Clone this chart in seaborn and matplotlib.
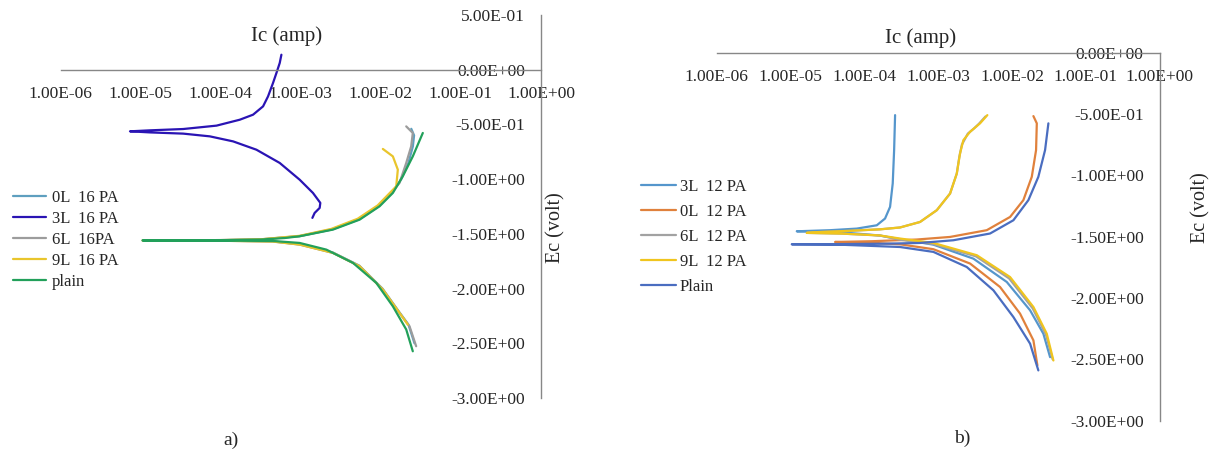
import numpy as np
import pandas as pd
import matplotlib
matplotlib.use("Agg")
import matplotlib.pyplot as plt
from matplotlib.ticker import FuncFormatter, NullLocator
import seaborn as sns

# current values as log10(Ic / amp), potentials in volt
# ---- panel a (16 PA) ----
a_0L_logI = [-1.58, -1.655, -1.775, -1.98, -2.27, -2.60, -3.014, -3.35, -4.0, -4.975,
             -4.0, -3.5, -3.014, -2.605, -2.272, -2.022, -1.86, -1.745, -1.655, -1.60, -1.585, -1.62]
a_0L_E = [-2.50, -2.33, -2.21, -2.0, -1.79, -1.67, -1.595, -1.568, -1.562, -1.560,
          -1.557, -1.551, -1.521, -1.459, -1.368, -1.246, -1.125, -1.0, -0.85, -0.70, -0.60, -0.54]

a_3L_logI = [-2.855, -2.827, -2.764, -2.756, -2.848, -3.014, -3.263, -3.554, -3.845, -4.136,
             -4.469, -4.884, -5.133, -4.884, -4.469, -4.052, -3.762, -3.596, -3.471, -3.409,
             -3.347, -3.304, -3.263, -3.242]
a_3L_E = [-1.354, -1.309, -1.263, -1.217, -1.126, -1.005, -0.852, -0.731, -0.655, -0.609,
          -0.584, -0.573, -0.563, -0.554, -0.542, -0.511, -0.457, -0.411, -0.335, -0.244,
          -0.122, -0.030, 0.061, 0.137]

a_6L_logI = [-1.559, -1.642, -1.767, -1.975, -2.265, -2.598, -3.014, -3.35, -4.0, -4.975,
             -4.0, -3.5, -3.014, -2.61, -2.28, -2.03, -1.87, -1.767, -1.683, -1.621, -1.601, -1.683]
a_6L_E = [-2.527, -2.344, -2.222, -2.009, -1.796, -1.674, -1.598, -1.570, -1.563, -1.560,
          -1.557, -1.550, -1.520, -1.458, -1.366, -1.244, -1.124, -1.035, -0.852, -0.700, -0.578, -0.518]

a_9L_logI = [-1.663, -1.767, -1.975, -2.265, -2.598, -3.014, -3.35, -4.0, -4.975,
             -4.0, -3.5, -3.014, -2.62, -2.29, -2.04, -1.88, -1.808, -1.788, -1.850, -1.975]
a_9L_E = [-2.329, -2.222, -2.009, -1.796, -1.674, -1.598, -1.570, -1.563, -1.560,
          -1.557, -1.550, -1.518, -1.455, -1.362, -1.240, -1.120, -1.066, -0.913, -0.792, -0.724]

a_plain_logI = [-1.601, -1.683, -1.850, -2.057, -2.349, -2.681, -3.014, -3.35, -4.0, -4.975,
                -4.0, -3.5, -3.2, -3.014, -2.598, -2.265, -2.016, -1.850, -1.726, -1.601, -1.476]
a_plain_E = [-2.573, -2.374, -2.162, -1.948, -1.765, -1.644, -1.583, -1.565, -1.562, -1.560,
             -1.558, -1.552, -1.538, -1.522, -1.461, -1.370, -1.248, -1.126, -0.974, -0.792, -0.578]

# ---- panel b (12 PA) ----
b_3L_logI = [-1.485, -1.576, -1.756, -2.072, -2.524, -3.066, -3.518, -3.8, -4.3, -4.917,
             -4.466, -4.104, -3.833, -3.721, -3.653, -3.617, -3.598, -3.585]
b_3L_E = [-2.482, -2.291, -2.100, -1.869, -1.679, -1.565, -1.52, -1.49, -1.465, -1.456,
          -1.447, -1.434, -1.407, -1.352, -1.257, -1.066, -0.794, -0.509]

b_0L_logI = [-1.657, -1.711, -1.892, -2.163, -2.569, -3.066, -3.518, -3.9, -4.398,
             -3.9, -3.291, -2.840, -2.343, -2.027, -1.847, -1.733, -1.675, -1.665, -1.711]
b_0L_E = [-2.549, -2.345, -2.127, -1.910, -1.719, -1.602, -1.562, -1.550, -1.543,
          -1.537, -1.523, -1.502, -1.447, -1.339, -1.202, -1.012, -0.794, -0.576, -0.517]

b_6L_logI = [-1.45, -1.54, -1.72, -2.04, -2.49, -3.066, -3.518, -3.79, -4.3, -4.78,
             -4.69, -4.24, -3.79, -3.52, -3.247, -3.020, -2.840, -2.749, -2.715, -2.68,
             -2.60, -2.52, -2.45, -2.36]
b_6L_E = [-2.50, -2.30, -2.085, -1.84, -1.66, -1.56, -1.525, -1.49, -1.475, -1.469,
          -1.464, -1.453, -1.440, -1.425, -1.380, -1.284, -1.148, -0.985, -0.85, -0.75,
          -0.66, -0.62, -0.58, -0.52]

b_9L_logI = [-1.440, -1.530, -1.711, -2.027, -2.478, -3.066, -3.518, -3.79, -4.3, -4.782,
             -4.692, -4.240, -3.789, -3.518, -3.247, -3.020, -2.840, -2.749, -2.705, -2.660,
             -2.569, -2.434, -2.335]
b_9L_E = [-2.509, -2.291, -2.073, -1.829, -1.651, -1.551, -1.515, -1.49, -1.475, -1.469,
          -1.464, -1.453, -1.440, -1.425, -1.380, -1.284, -1.148, -0.985, -0.821, -0.713,
          -0.645, -0.576, -0.509]

b_plain_logI = [-1.644, -1.756, -1.982, -2.253, -2.614, -3.066, -3.518, -4.3, -4.985,
                -4.3, -3.7, -3.247, -2.795, -2.298, -1.982, -1.779, -1.644, -1.553, -1.508]
b_plain_E = [-2.590, -2.372, -2.155, -1.937, -1.747, -1.624, -1.584, -1.566, -1.562,
             -1.560, -1.557, -1.551, -1.529, -1.474, -1.366, -1.202, -1.012, -0.794, -0.576]

x_ticks = [1e-6, 1e-5, 1e-4, 1e-3, 1e-2, 1e-1, 1e0]

series_a = [("0L  16 PA", a_0L_logI, a_0L_E, "#5E9FBF"),
            ("3L  16 PA", a_3L_logI, a_3L_E, "#2A14B4"),
            ("6L  16PA", a_6L_logI, a_6L_E, "#9C9C9C"),
            ("9L  16 PA", a_9L_logI, a_9L_E, "#E9C52C"),
            ("plain", a_plain_logI, a_plain_E, "#22A05A")]
series_b = [("3L  12 PA", b_3L_logI, b_3L_E, "#5596CC"),
            ("0L  12 PA", b_0L_logI, b_0L_E, "#E0813C"),
            ("6L  12 PA", b_6L_logI, b_6L_E, "#A2A2A2"),
            ("9L  12 PA", b_9L_logI, b_9L_E, "#F0C51E"),
            ("Plain", b_plain_logI, b_plain_E, "#4A6DC0")]


def draw_series(ax, series):
    # one tafel curve per coating, drawn in reading order
    for name, logi, e, col in series:
        df = pd.DataFrame({"I": np.power(10.0, logi), "E": e})
        sns.lineplot(data=df, x="I", y="E", ax=ax, sort=False, estimator=None,
                     color=col, linewidth=1.6, label=name)


def style_axes(ax, ymax):
    ax.set_xscale("log")
    ax.set_xlim(1e-6, 1)
    ax.set_ylim(-3.0, ymax)
    ax.spines["top"].set_visible(False)
    ax.spines["right"].set_visible(False)
    # excel style crossing axes: y axis at 1 amp, x axis at 0 volt
    ax.spines["left"].set_position(("axes", 1.0))
    ax.spines["bottom"].set_position(("data", 0))
    for s in ["left", "bottom"]:
        ax.spines[s].set_color("#878787")
        ax.spines[s].set_linewidth(1.0)
    ax.set_xticks(x_ticks)
    ax.xaxis.set_minor_locator(NullLocator())
    ax.set_yticks(np.arange(-3.0, ymax + 0.01, 0.5))
    fmt = FuncFormatter(lambda v, p: f"{v:.2E}")
    ax.xaxis.set_major_formatter(fmt)
    ax.yaxis.set_major_formatter(fmt)
    ax.tick_params(axis="both", direction="out", length=4, width=1.0,
                   color="#878787", labelsize=12.5)
    ax.tick_params(axis="x", pad=7.5)
    ax.tick_params(axis="y", pad=7.5)
    ax.set_xlabel("")
    ax.set_ylabel("")


sns.set_style("white")
plt.rcParams["font.family"] = ["Liberation Serif", "DejaVu Serif"]

fig = plt.figure(figsize=(12.16, 4.53), dpi=100)
ax_a = fig.add_axes([0.0498, 0.1214, 0.3951, 0.8455])
ax_b = fig.add_axes([0.5895, 0.0713, 0.3642, 0.8124])

draw_series(ax_a, series_a)
draw_series(ax_b, series_b)
style_axes(ax_a, 0.5)
style_axes(ax_b, 0.0)

# axis titles
ax_a.text(0.47, 0.945, "Ic (amp)", transform=ax_a.transAxes, ha="center", va="center", fontsize=15)
ax_b.text(0.46, 1.04, "Ic (amp)", transform=ax_b.transAxes, ha="center", va="center", fontsize=15)
ax_a.text(1.03, 0.444, "Ec (volt)", transform=ax_a.transAxes, ha="center", va="center",
          rotation=90, fontsize=14.5)
ax_b.text(1.092, 0.578, "Ec (volt)", transform=ax_b.transAxes, ha="center", va="center",
          rotation=90, fontsize=14.5)

# legends placed to the left of the curves
ax_a.legend(loc="upper left", bbox_to_anchor=(0.011, 0.5815), bbox_transform=fig.transFigure,
            frameon=False, fontsize=12, borderpad=0, borderaxespad=0,
            handlelength=1.95, handletextpad=0.36, labelspacing=0.3)
ax_b.legend(loc="upper left", bbox_to_anchor=(0.527, 0.6057), bbox_transform=fig.transFigure,
            frameon=False, fontsize=12, borderpad=0, borderaxespad=0,
            handlelength=2.1, handletextpad=0.25, labelspacing=0.54)

fig.text(0.190, 0.029, "a)", ha="center", va="center", fontsize=14)
fig.text(0.791, 0.033, "b)", ha="center", va="center", fontsize=14)

fig.savefig("out.png", dpi=100)
